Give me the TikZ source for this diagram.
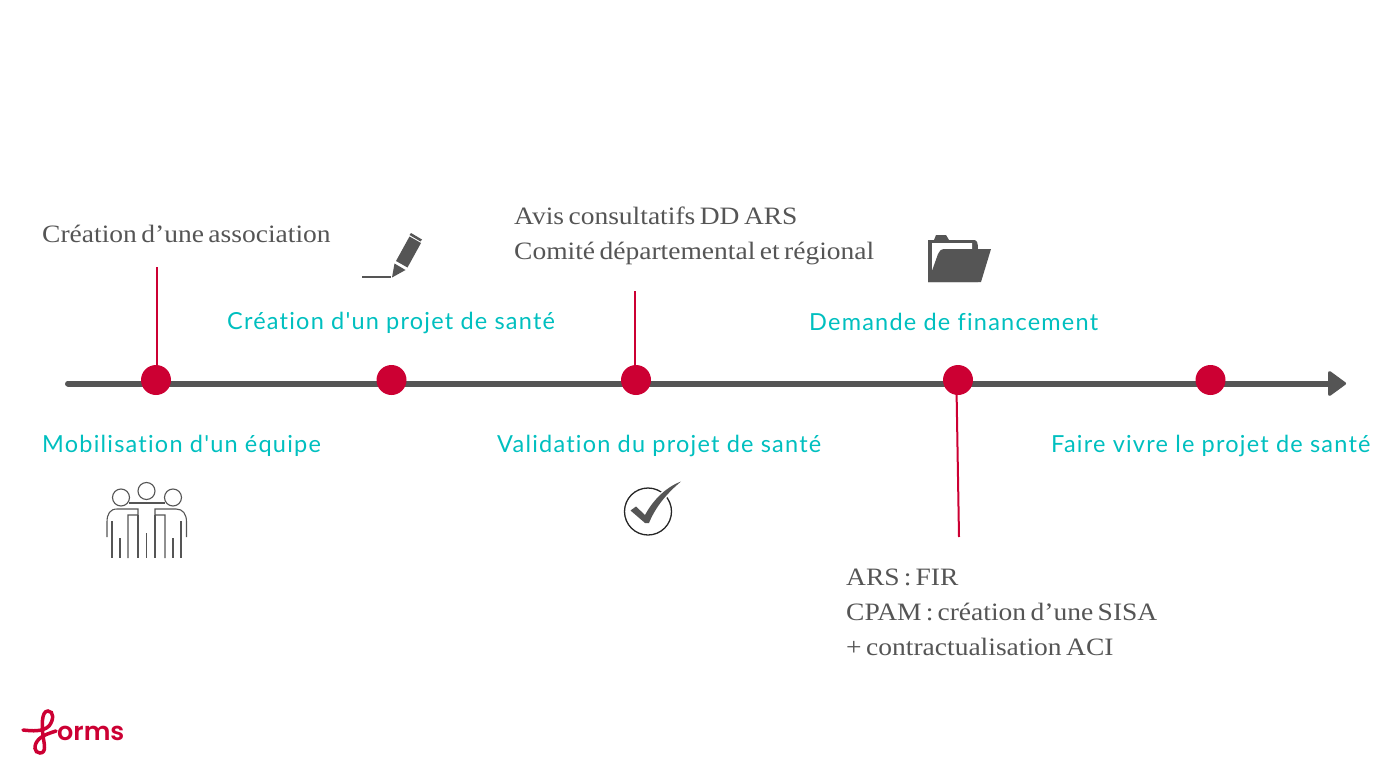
\documentclass[tikz,border=0pt]{standalone}
\usepackage{fontspec}
\usepackage{xcolor}
\usetikzlibrary{arrows.meta}
\setmainfont[FakeStretch=1.1,WordSpace=0.65]{Liberation Serif}
\newfontfamily\stepfont[LetterSpace=5.2,Ligatures=NoCommon]{Lato}
\newfontfamily\logofont[BoldFont=Poppins SemiBold]{Poppins}
\definecolor{axisgray}{HTML}{555555}
\definecolor{dotred}{HTML}{CC0033}
\definecolor{stepteal}{HTML}{00BFBF}
\tikzset{%
  tipA/.tip={Triangle[length=19pt,width=27pt,round,line width=3pt]},
  dotA/.style={circle,fill=dotred,minimum size=30pt,inner sep=0pt},
  stemA/.style={color=dotred,line width=2pt},
  noteA/.style={anchor=base west,inner sep=0pt,text=axisgray,font=\fontsize{25}{28}\selectfont},
  stepA/.style={anchor=base west,inner sep=0pt,text=stepteal,font=\stepfont\fontsize{23.5}{28}\selectfont},
  thinA/.style={color=axisgray,line width=1.1pt},
}

\begin{document}
\begin{tikzpicture}[x=1pt,y=-1pt]
\useasboundingbox (0,0) rectangle (1400,768);
% axis and dots
\coordinate (axisstart) at (68,383.5);
\coordinate (axisend) at (1346,383.5);
\draw[axisgray, line width=6pt, line cap=round, -tipA] (axisstart) -- (axisend);
\coordinate (stemone) at (157,267);
\coordinate (stemthree) at (635,291);
\coordinate (stemfour) at (959,537);
\coordinate (stemfourtop) at (956.5,388);
\draw[stemA] (stemone) -- (stemone |- 0,380);
\draw[stemA] (stemthree) -- (stemthree |- 0,380);
\draw[stemA] (stemfour) -- (stemfourtop);
\node[dotA] (dotone) at (156,380) {};
\node[dotA] (dottwo) at (391.5,380) {};
\node[dotA] (dotthree) at (636,380) {};
\node[dotA] (dotfour) at (958,380) {};
\node[dotA] (dotfive) at (1210.5,380) {};
% steps
\node[stepA] (stepone) at (42,452) {Mobilisation d'un équipe};
\node[stepA] (steptwo) at (227,329) {Création d'un projet de santé};
\node[stepA] (stepthree) at (497,452) {Validation du projet de santé};
\node[stepA] (stepfour) at (809,330) {Demande de financement};
\node[stepA] (stepfive) at (1051,452) {Faire vivre le projet de santé};
% notes
\node[noteA] (noteone) at (42,242) {Création d’une association};
\node[noteA] (notethreea) at (514,224) {Avis consultatifs DD ARS};
\node[noteA] (notethreeb) at (514,259) {Comité départemental et régional};
\node[noteA] (notefoura) at (846,585) {ARS\,:\,FIR};
\node[noteA] (notefourb) at (846,620) {CPAM\,:\,création d’une SISA};
\node[noteA] (notefourc) at (846,655) {+ contractualisation ACI};
% people
\draw[thinA] (121,497.5) circle (8.5);
\draw[thinA] (146.5,491) circle (8.5);
\draw[thinA] (173,497.5) circle (8.5);
\draw[thinA] (129,503) -- (165,503);
\draw[thinA] (107,537) -- (107,522) .. controls (107,514) and (110,509) .. (117,509) -- (138,509) -- (138,515) -- (128,515) -- (128,558);
\draw[thinA] (138,515) -- (138,558);
\draw[thinA] (186.5,537) -- (186.5,522) .. controls (186.5,514) and (183,509) .. (176,509) -- (155,509) -- (155,515) -- (165,515) -- (165,558);
\draw[thinA] (155,515) -- (155,558);
\draw[thinA] (112,521) -- (112,558);
\draw[thinA] (120,538) -- (120,558);
\draw[thinA] (146.5,533) -- (146.5,558);
\draw[thinA] (173,538) -- (173,558);
\draw[thinA] (181,521) -- (181,558);
% pencil
\draw[axisgray, line width=2pt] (362,277) -- (391,277);
\fill[axisgray] (392,277.5) -- (394.5,263.5) -- (405.5,270) -- cycle;
\fill[axisgray] (396,261) -- (407.5,267.5) -- (421,243) -- (409.5,236.5) -- cycle;
\fill[axisgray] (411,233) -- (422,239.5) -- (420.5,241.5) -- (409.5,235) -- cycle;
% folder
\fill[axisgray] (928,282) -- (928,240) -- (934,240) -- (936,235) -- (946,235) -- (949,240) -- (974,240) .. controls (977,240) and (978,243) .. (978,249) -- (978,282) -- cycle;
\fill[white] (932,243) -- (972,243) -- (972,249) -- (945,249) -- (932,274) -- cycle;
\fill[axisgray] (928,282) -- (938,254) .. controls (939,251) and (941,249) .. (945,249) -- (991,249) -- (981,282) -- cycle;
% check mark
\draw[black!85, line width=1.3pt] (648,511.5) circle (23.5);
\fill[axisgray, preaction={draw=white, line width=3pt}] (630.5,510.5) -- (636,506.5) -- (645,515) .. controls (652,502) and (664,488) .. (681,481.5) .. controls (666,494) and (655,508) .. (649,523) -- (645,523) -- cycle;
% logo
\draw[dotred, line width=3.5pt, line cap=round] (23,730) .. controls (32,731) and (43,732) .. (49,726) .. controls (54,720) and (54,711) .. (48,711) .. controls (41,711) and (42,727) .. (43,736) .. controls (44,743) and (47,753) .. (40,753) .. controls (34,753) and (33,745) .. (39,739) .. controls (43,735) and (50,733) .. (56,731);
\node[anchor=base west, inner sep=0pt, text=dotred, font=\logofont\bfseries\fontsize{25.5}{30}\selectfont] (logotext) at (57,740) {orms};
\end{tikzpicture}
\end{document}
